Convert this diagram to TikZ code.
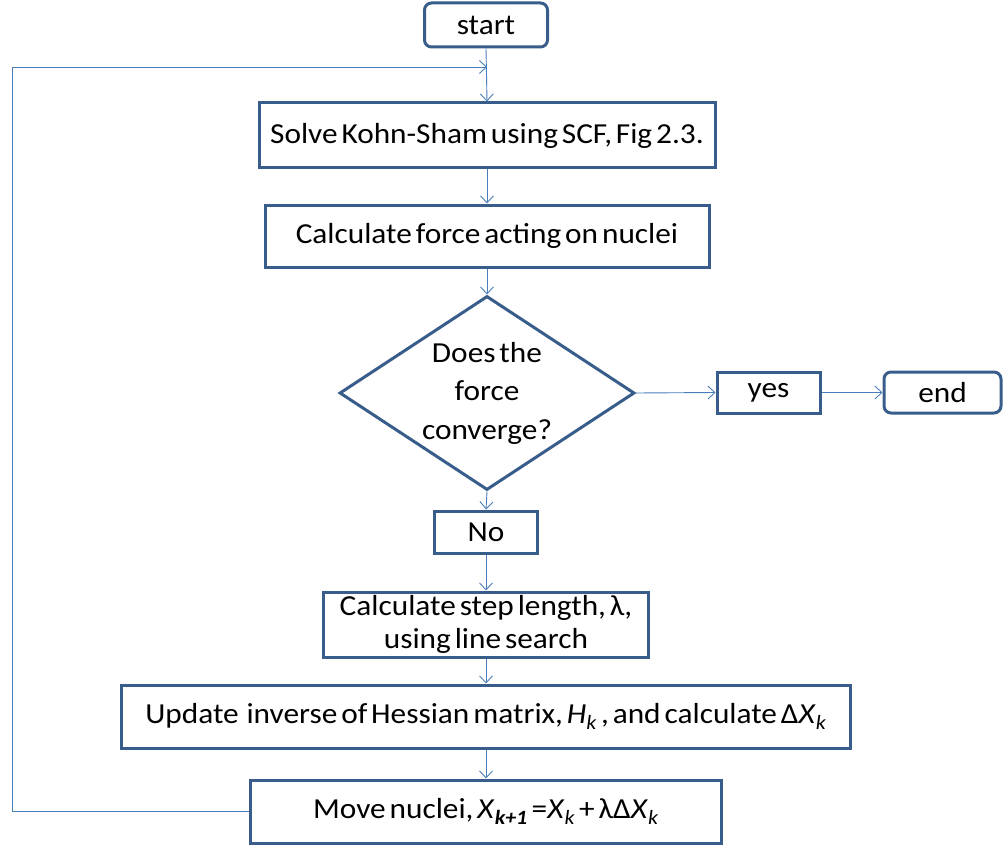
\documentclass[tikz,border=0pt]{standalone}
\usepackage{fontspec}
\setmainfont{Carlito}[FakeStretch=1.08, WordSpace=0.55]
\usetikzlibrary{shapes.geometric,arrows.meta}
\definecolor{boxline}{HTML}{385D8A}
\definecolor{connline}{HTML}{4A7EBB}
\tikzset{
  every node/.style={font=\fontsize{29}{33}\selectfont, text=black},
  procbox/.style={draw=boxline, line width=3pt, rectangle, inner sep=0pt},
  termbox/.style={procbox, rounded corners=7pt},
  decbox/.style={draw=boxline, line width=3pt, diamond, inner sep=0pt, minimum width=295pt, minimum height=194pt, aspect=1.52},
  conn/.style={draw=connline, line width=0.9pt, -{Straight Barb[length=7pt,width=13pt,line width=0.9pt]}}
}
\begin{document}
\begin{tikzpicture}[x=1pt,y=-1pt]
\useasboundingbox (0,0) rectangle (1003,845);
\node[termbox, minimum width=123pt, minimum height=44pt] (start) at (486,25) {start};
\node[procbox, minimum width=456pt, minimum height=65pt] (solve) at (487,135.5) {Solve Kohn-Sham using SCF, Fig 2.3.};
\node[procbox, minimum width=444pt, minimum height=62pt] (force) at (487,236) {Calculate force acting on nuclei};
\node[decbox] (dec) at (487,393) {};
\node[align=center, font=\fontsize{29}{38.5}\selectfont] (dectext) at (487,393) {Does the\\force\\converge?};
\node[procbox, minimum width=103pt, minimum height=41pt] (yes) at (768.5,392.5) {\raisebox{-2pt}{yes}};
\node[termbox, minimum width=117pt, minimum height=41pt] (end) at (942.5,392.5) {end};
\node[procbox, minimum width=103pt, minimum height=42pt] (no) at (486,532) {No};
\node[procbox, minimum width=325pt, minimum height=65pt, align=center, font=\fontsize{29}{33}\selectfont] (stepbox) at (486,624.5) {Calculate step length, λ,\\using line search};
\node[procbox, minimum width=729pt, minimum height=63pt] (update) at (486,716.5) {Update\ \ inverse of Hessian matrix, \textit{H}\textsubscript{\textit{k}} ,\ and calculate Δ\textit{X}\textsubscript{\textit{k}}};
\node[procbox, minimum width=471pt, minimum height=63pt] (move) at (486,811.5) {Move nuclei, \textit{X}\textsubscript{\textbf{\textit{k+1}}} =\textit{X}\textsubscript{\textit{k}} + λΔ\textit{X}\textsubscript{\textit{k}}};
\coordinate (loopin) at (487,67);
\coordinate (loopbl) at (12,811.5);
\coordinate (looptl) at (12,67);
\draw[conn] (start.south) -- (solve.north);
\draw[conn] (move.west) -- (loopbl) -- (looptl) -- (loopin);
\draw[conn] (solve.south) -- (force.north);
\draw[conn] (force.south) -- (dec.north);
\draw[conn] (dec.east) -- (yes.west);
\draw[conn] (yes.east) -- (end.west);
\draw[conn] (dec.south) -- (no.north);
\draw[conn] (no.south) -- (stepbox.north);
\draw[conn] (stepbox.south) -- (update.north);
\draw[conn] (update.south) -- (move.north);
\end{tikzpicture}
\end{document}
